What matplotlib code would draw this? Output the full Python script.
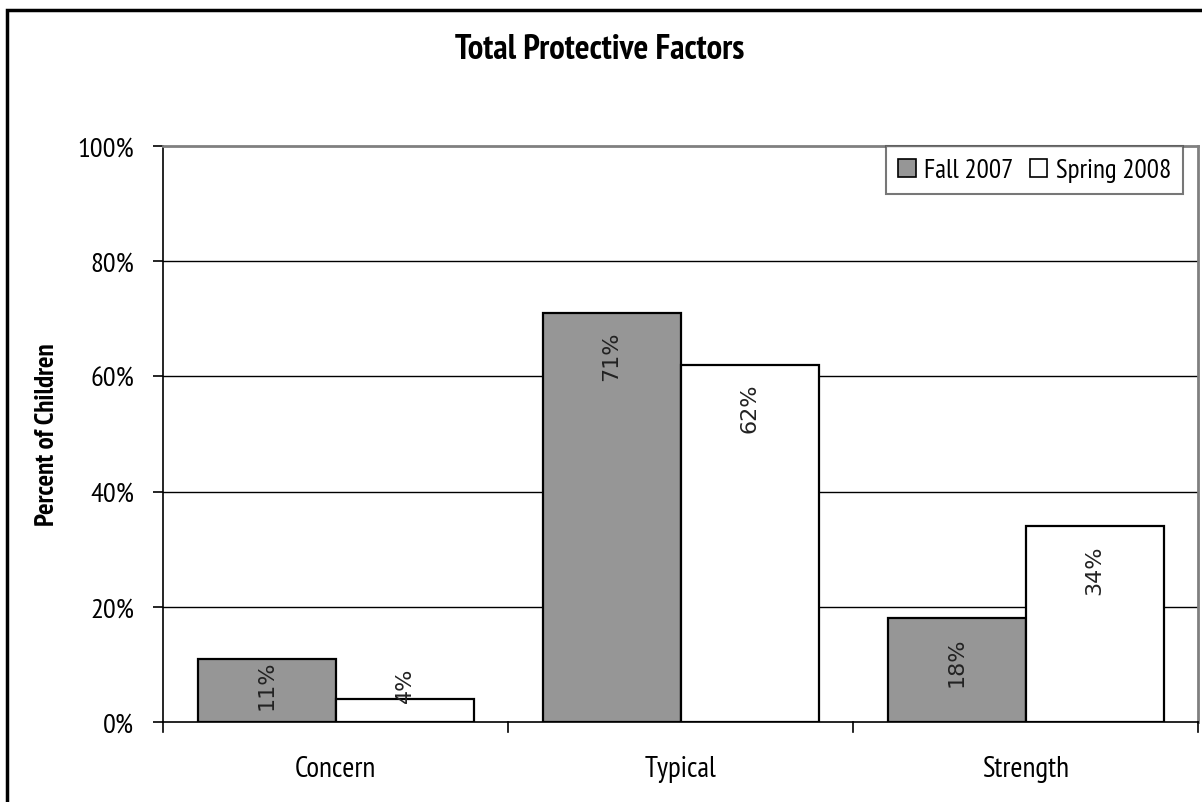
import matplotlib
matplotlib.use("Agg")
import matplotlib.pyplot as plt
from matplotlib.patches import Rectangle
from matplotlib import font_manager as fm
import numpy as np

categories = ["Concern", "Typical", "Strength"]
series_names = ["Fall 2007", "Spring 2008"]
fall_2007 = [11, 71, 18]
spring_2008 = [4, 62, 34]
y_ticks = [0, 20, 40, 60, 80, 100]
y_tick_labels = ["0%", "20%", "40%", "60%", "80%", "100%"]

names = {f.name for f in fm.fontManager.ttflist}
def pick(prefs):
    for p in prefs:
        if p in names:
            return p
    return "DejaVu Sans"
cond = pick(["PT Sans Narrow", "Fira Sans Condensed", "Roboto Condensed", "Archivo Narrow",
             "IBM Plex Sans Condensed", "Liberation Sans Narrow"])
cond_bold = pick(["PT Sans Narrow", "Fira Sans Condensed", "Roboto Condensed", "Open Sans Condensed",
                  "IBM Plex Sans Condensed"])

W, H = 1202, 803
fig = plt.figure(figsize=(W / 100, H / 100), dpi=100)
ax = fig.add_axes([163 / W, 1 - 723 / H, (1198 - 163) / W, (723 - 147) / H])

x = np.arange(len(categories))
bw = 0.4
b1 = ax.bar(x - bw / 2, fall_2007, bw, color="#969696", edgecolor="black", linewidth=1.6, label=series_names[0], zorder=3)
b2 = ax.bar(x + bw / 2, spring_2008, bw, color="white", edgecolor="black", linewidth=1.6, label=series_names[1], zorder=3)

for bars, vals in ((b1, fall_2007), (b2, spring_2008)):
    for rect, v in zip(bars, vals):
        yc = max(v - 7.4, 6.5)
        ax.text(rect.get_x() + rect.get_width() / 2, yc, f"{v}%", rotation=90,
                ha="center", va="center", fontsize=16, family="DejaVu Sans",
                color="#222222", zorder=4)

ax.set_xlim(-0.5, len(categories) - 0.5)
ax.set_ylim(0, 100)
ax.set_yticks(y_ticks)
ax.set_yticklabels(y_tick_labels, family=cond, fontsize=20.5)
ax.set_xticks(x)
ax.set_xticklabels(categories, family=cond, fontsize=21)
ax.tick_params(axis="x", length=0, pad=24)
ax.tick_params(axis="y", length=7, width=1.2, direction="out", pad=14)
for b in np.arange(-0.5, len(categories)):
    ax.plot([b, b], [0, -1.8], color="black", lw=1.2, clip_on=False, zorder=5)

for yv in y_ticks[1:-1]:
    ax.axhline(yv, color="black", lw=1.0, zorder=1)

ax.spines["left"].set_linewidth(1.2)
ax.spines["bottom"].set_linewidth(1.2)
ax.spines["top"].set_color("#808080")
ax.spines["right"].set_color("#808080")
ax.spines["top"].set_linewidth(2)
ax.spines["right"].set_linewidth(2)

ax.set_ylabel("Percent of Children", family=cond_bold, fontsize=19.5, fontweight="bold")
ax.yaxis.set_label_coords(-104 / (1198 - 163), 0.5)

fig.text(600 / W, 1 - 50 / H, "Total Protective Factors", ha="center", va="center",
         family=cond_bold, fontsize=25, fontweight="bold")

leg = ax.legend(loc="upper right", bbox_to_anchor=((1183 - 163) / (1198 - 163), 1.0),
                ncol=2, frameon=True, fancybox=False, prop={"family": cond, "size": 19.5},
                handlelength=0.65, handleheight=0.65, handletextpad=0.3, columnspacing=0.6,
                borderpad=0.45, borderaxespad=0)
leg.get_frame().set_edgecolor("#555555")
leg.get_frame().set_linewidth(1.5)
for h in leg.legend_handles:
    h.set_linewidth(1.2)

fig.patches.append(Rectangle((7 / W, -0.05), 1.2, 1 - 11 / H + 0.05, transform=fig.transFigure,
                             fill=False, edgecolor="black", linewidth=2.5))

fig.savefig("out.png", dpi=100, facecolor="white")
